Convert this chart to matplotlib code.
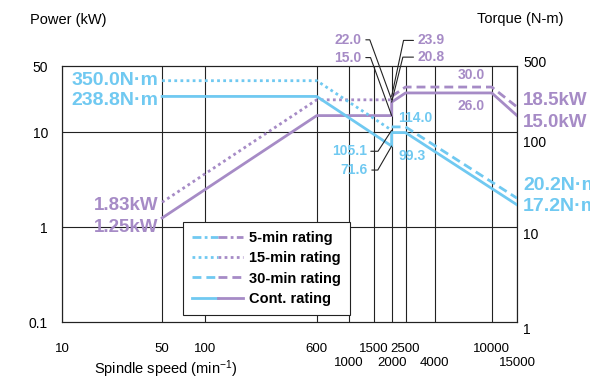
import matplotlib.pyplot as plt
from matplotlib.lines import Line2D
from matplotlib.legend_handler import HandlerTuple
from matplotlib.ticker import NullLocator

plt.rcParams['font.family'] = ['Liberation Sans', 'DejaVu Sans']
plt.rcParams['mathtext.fontset'] = 'custom'
plt.rcParams['mathtext.rm'] = 'Liberation Sans'
plt.rcParams['mathtext.it'] = 'Liberation Sans:italic'
plt.rcParams['mathtext.bf'] = 'Liberation Sans:bold'

BLUE = '#70c9f1'
PURPLE = '#a68bc6'

# axis ticks
speed_ticks = [10, 50, 100, 600, 1000, 1500, 2000, 2500, 4000, 10000, 15000]
speed_lower_row = [1000, 2000, 4000, 15000]
power_ticks = [0.1, 1, 10, 50]
torque_ticks = [1, 10, 100, 500]

# 15-min rating
speed_15 = [50, 600, 2000]
power_15 = [1.83, 22.0, 22.0]
torque_15 = [350.0, 350.0, 105.1]

# 30-min rating
speed_30 = [2000, 2500, 10000, 15000]
power_30 = [23.9, 30.0, 30.0, 18.5]
speed_30_t = [2000, 2500, 15000]
torque_30 = [114.0, 114.0, 20.2]

# continuous rating
speed_cont = [50, 600, 2000, 2000, 2500, 10000, 15000]
power_cont = [1.25, 15.0, 15.0, 20.8, 26.0, 26.0, 15.0]
speed_cont_t = [50, 600, 2000, 2000, 2500, 15000]
torque_cont = [238.8, 238.8, 71.6, 99.3, 99.3, 17.2]

DOT = (0, (1, 1.2))
DASH = (0, (3.2, 1.8))
DASHDOT = (0, (3.2, 1.2, 1, 1.2))
LW = 2.0

fig = plt.figure(figsize=(5.9, 3.83), dpi=100)
ax = fig.add_axes([62 / 590, 1 - 322 / 383, 455 / 590, 256 / 383])
ax2 = ax.twinx()

ax.set_xscale('log')
ax.set_yscale('log')
ax2.set_yscale('log')
ax.set_xlim(10, 15000)
ax.set_ylim(0.1, 50)
ax2.set_ylim(1, 500)

# grid
for s in speed_ticks:
    ax.axvline(s, color='#222222', lw=0.8, zorder=1)
for p in [1, 10]:
    ax.axhline(p, color='#222222', lw=0.8, zorder=1)
for a in (ax, ax2):
    for sp in a.spines.values():
        sp.set_color('#222222')
        sp.set_linewidth(0.8)

# power curves
ax.plot(speed_15, power_15, color=PURPLE, lw=LW, ls=DOT, zorder=3)
ax.plot(speed_30, power_30, color=PURPLE, lw=LW, ls=DASH, zorder=3)
ax.plot(speed_cont, power_cont, color=PURPLE, lw=LW, zorder=3)

# torque curves
ax2.plot(speed_15, torque_15, color=BLUE, lw=LW, ls=DOT, zorder=3)
ax2.plot(speed_30_t, torque_30, color=BLUE, lw=LW, ls=DASH, zorder=3)
ax2.plot(speed_cont_t, torque_cont, color=BLUE, lw=LW, zorder=3)

# ticks
ax.xaxis.set_minor_locator(NullLocator())
ax.yaxis.set_minor_locator(NullLocator())
ax2.yaxis.set_minor_locator(NullLocator())
ax.set_xticks(speed_ticks,
              labels=[('\n' if s in speed_lower_row else '') + str(s) for s in speed_ticks])
ax.set_yticks(power_ticks, labels=['0.1', '1', '10', '50'])
ax.tick_params(axis='x', length=0, pad=15, labelsize=9.5)
ax.tick_params(axis='y', length=0, pad=10, labelsize=10)
ax2.set_yticks(torque_ticks, labels=[])
ax2.tick_params(axis='y', length=0)
for t, dy in zip(torque_ticks, [-8, -8, -11, 3]):
    ax2.annotate(str(t), xy=(1, t), xycoords=('axes fraction', 'data'),
                 xytext=(6, dy), textcoords='offset pixels',
                 ha='left', va='center', fontsize=10)

fig.text(30 / 590, 1 - 20 / 383, 'Power (kW)', fontsize=10.5, va='center')
fig.text(477 / 590, 1 - 19 / 383, 'Torque (N-m)', fontsize=10.5, va='center')
fig.text(166 / 590, 1 - 369 / 383, r'Spindle speed (min$^{-1}$)', fontsize=10.5,
         ha='center', va='center')


def label(axis, x, y, text, dx, dy, color, size=10, ha='left', angle=None):
    kw = {}
    if angle is not None:
        kw['arrowprops'] = dict(arrowstyle='-', color='#222222', lw=0.8,
                                shrinkA=1, shrinkB=0,
                                relpos=(1, 0.5) if ha == 'right' else (0, 0.5),
                                connectionstyle=f'angle,angleA=0,angleB={angle},rad=0')
    axis.annotate(text, xy=(x, y), xytext=(dx, dy), textcoords='offset pixels',
                  ha=ha, va='center', color=color, fontsize=size,
                  fontweight='bold', **kw)


# value labels
label(ax2, 50, 350.0, '350.0N\u00b7m', -4, 0, BLUE, 14, 'right')
label(ax2, 50, 238.8, '238.8N\u00b7m', -4, -4, BLUE, 14, 'right')
label(ax, 50, 1.83, '1.83kW', -4, -3, PURPLE, 13.5, 'right')
label(ax, 50, 1.25, '1.25kW', -4, -10, PURPLE, 13.5, 'right')
label(ax, 15000, 18.5, '18.5kW', 6, 6, PURPLE, 13.5)
label(ax, 15000, 15.0, '15.0kW', 6, -7, PURPLE, 13.5)
label(ax2, 15000, 20.2, '20.2N\u00b7m', 6, 13, BLUE, 14)
label(ax2, 15000, 17.2, '17.2N\u00b7m', 6, -2, BLUE, 14)

label(ax, 10000, 30.0, '30.0', -7, 12, PURPLE, 10, 'right')
label(ax, 10000, 26.0, '26.0', -7, -13, PURPLE, 10, 'right')
label(ax2, 2500, 114.0, '114.0', -7, 9, BLUE, 10)
label(ax2, 2500, 99.3, '99.3', -7, -23, BLUE, 10)

label(ax, 2000, 22.0, '22.0', -30, 60, PURPLE, 10, 'right', angle=110)
label(ax, 2000, 15.0, '15.0', -30, 58, PURPLE, 10, 'right', angle=110)
label(ax, 2000, 23.9, '23.9', 26, 56, PURPLE, 10, 'left', angle=78)
label(ax, 2000, 20.8, '20.8', 26, 45, PURPLE, 10, 'left', angle=76)
label(ax2, 2000, 105.1, '105.1', -25, -21, BLUE, 10, 'right', angle=57)
label(ax2, 2000, 71.6, '71.6', -24, -24, BLUE, 10, 'right', angle=60)

# legend
styles = [('5-min rating', DASHDOT), ('15-min rating', DOT),
          ('30-min rating', DASH), ('Cont. rating', '-')]
handles = [(Line2D([], [], color=BLUE, lw=LW, ls=st),
            Line2D([], [], color=PURPLE, lw=LW, ls=st)) for _, st in styles]
leg = ax2.legend(handles, [n for n, _ in styles],
                 handler_map={tuple: HandlerTuple(ndivide=None, pad=0)},
                 loc='upper left', bbox_to_anchor=((183 - 62) / 455, 1 - (222 - 66) / 256),
                 prop={'weight': 'bold', 'size': 10.5}, frameon=True, fancybox=False,
                 framealpha=1, edgecolor='#222222', handlelength=3.5,
                 handletextpad=0.4, labelspacing=0.43, borderpad=0.62,
                 borderaxespad=0)
leg.get_frame().set_linewidth(0.8)

fig.savefig('out.png', dpi=100)
